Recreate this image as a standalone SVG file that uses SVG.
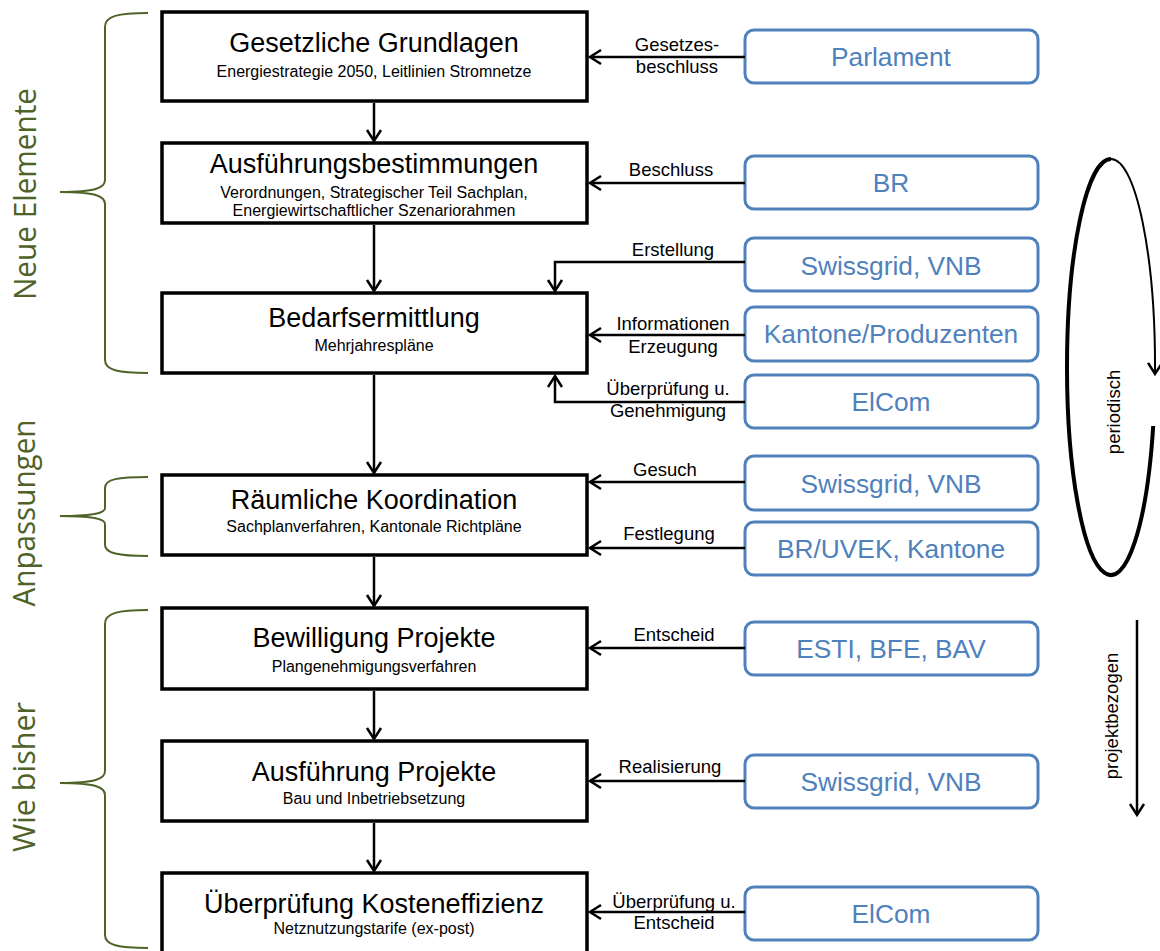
<svg xmlns="http://www.w3.org/2000/svg" width="1160" height="951" viewBox="0 0 1160 951">
<defs>
<style>
.box{fill:#fff;stroke:#000;stroke-width:3.5}
.bbox{fill:#fff;stroke:#4F81BD;stroke-width:3}
.t{font-family:"Liberation Sans",Arial,sans-serif;font-size:27px;fill:#000;text-anchor:middle}
.s{font-family:"Liberation Sans",Arial,sans-serif;font-size:16px;fill:#000;text-anchor:middle}
.l{font-family:"Liberation Sans",Arial,sans-serif;font-size:18.5px;fill:#000;text-anchor:middle}
.bt{font-family:"Liberation Sans",Arial,sans-serif;font-size:26.3px;fill:#4F81BD;text-anchor:middle}
.g{font-family:"Open Sans","Noto Sans",sans-serif;font-size:31px;fill:#4F6228;text-anchor:middle}
.br{fill:none;stroke:#4F6228;stroke-width:2}
.c{fill:none;stroke:#000;stroke-width:2.5}
</style>
<marker id="ah" markerUnits="userSpaceOnUse" markerWidth="16" markerHeight="18" refX="12" refY="8" orient="auto" overflow="visible">
<path d="M1,1 L12,8 L1,15" fill="none" stroke="#000" stroke-width="2.5"/>
</marker>
</defs>

<g id="braces">
<path class="br" d="M148,13 C118,13 105,16 105,27 L105,180 C105,188 95,192 60,192 C95,192 105,196 105,204 L105,360 C105,370 118,373 148,373"/>
<path class="br" d="M148,477 C118,477 105,479 105,488 L105,508 C105,513 95,516 60,516 C95,516 105,519 105,524 L105,545 C105,553 118,556 148,556"/>
<path class="br" d="M148,610 C118,610 105,613 105,624 L105,771 C105,779 95,783 60,783 C95,783 105,787 105,795 L105,935 C105,945 118,948 148,948"/>
<text class="g" transform="translate(36,194) rotate(-90)" textLength="212" lengthAdjust="spacingAndGlyphs">Neue Elemente</text>
<text class="g" transform="translate(35,513) rotate(-90)" textLength="187" lengthAdjust="spacingAndGlyphs">Anpassungen</text>
<text class="g" transform="translate(35,777) rotate(-90)" textLength="150" lengthAdjust="spacingAndGlyphs">Wie bisher</text>
</g>

<g id="n1"><rect class="box" x="162" y="12" width="425" height="89"/>
<text class="t" x="374" y="52">Gesetzliche Grundlagen</text>
<text class="s" x="374" y="77">Energiestrategie 2050, Leitlinien Stromnetze</text></g>

<g id="n2"><rect class="box" x="162" y="143" width="425" height="80"/>
<text class="t" x="374" y="173">Ausführungsbestimmungen</text>
<text class="s" x="374" y="198">Verordnungen, Strategischer Teil Sachplan,</text>
<text class="s" x="374" y="216">Energiewirtschaftlicher Szenariorahmen</text></g>

<g id="n3"><rect class="box" x="162" y="293" width="425" height="80"/>
<text class="t" x="374" y="327">Bedarfsermittlung</text>
<text class="s" x="374" y="351">Mehrjahrespläne</text></g>

<g id="n4"><rect class="box" x="162" y="475" width="425" height="80"/>
<text class="t" x="374" y="509">Räumliche Koordination</text>
<text class="s" x="374" y="532">Sachplanverfahren, Kantonale Richtpläne</text></g>

<g id="n5"><rect class="box" x="162" y="608" width="425" height="81"/>
<text class="t" x="374" y="647">Bewilligung Projekte</text>
<text class="s" x="374" y="672">Plangenehmigungsverfahren</text></g>

<g id="n6"><rect class="box" x="162" y="741" width="425" height="80"/>
<text class="t" x="374" y="781">Ausführung Projekte</text>
<text class="s" x="374" y="804">Bau und Inbetriebsetzung</text></g>

<g id="n7"><rect class="box" x="162" y="873" width="425" height="85"/>
<text class="t" x="374" y="913">Überprüfung Kosteneffizienz</text>
<text class="s" x="374" y="934">Netznutzungstarife (ex-post)</text></g>

<g id="b1"><rect class="bbox" x="745" y="30" width="293" height="53" rx="9"/><text class="bt" x="891" y="66">Parlament</text></g>
<g id="b2"><rect class="bbox" x="745" y="156" width="293" height="53" rx="9"/><text class="bt" x="891" y="192">BR</text></g>
<g id="b3"><rect class="bbox" x="745" y="238" width="293" height="53" rx="9"/><text class="bt" x="891" y="275">Swissgrid, VNB</text></g>
<g id="b4"><rect class="bbox" x="745" y="307" width="293" height="54" rx="9"/><text class="bt" x="891" y="343">Kantone/Produzenten</text></g>
<g id="b5"><rect class="bbox" x="745" y="375" width="293" height="53" rx="9"/><text class="bt" x="891" y="411">ElCom</text></g>
<g id="b6"><rect class="bbox" x="745" y="456" width="293" height="54" rx="9"/><text class="bt" x="891" y="493">Swissgrid, VNB</text></g>
<g id="b7"><rect class="bbox" x="745" y="522" width="293" height="53" rx="9"/><text class="bt" x="891" y="558">BR/UVEK, Kantone</text></g>
<g id="b8"><rect class="bbox" x="745" y="622" width="293" height="53" rx="9"/><text class="bt" x="891" y="658">ESTI, BFE, BAV</text></g>
<g id="b9"><rect class="bbox" x="745" y="755" width="293" height="53" rx="9"/><text class="bt" x="891" y="791">Swissgrid, VNB</text></g>
<g id="b10"><rect class="bbox" x="745" y="887" width="293" height="53" rx="9"/><text class="bt" x="891" y="923">ElCom</text></g>

<g id="connectors">
<line class="c" x1="374" y1="103" x2="374" y2="141" marker-end="url(#ah)"/>
<line class="c" x1="374" y1="225" x2="374" y2="291" marker-end="url(#ah)"/>
<line class="c" x1="374" y1="375" x2="374" y2="473" marker-end="url(#ah)"/>
<line class="c" x1="374" y1="557" x2="374" y2="606" marker-end="url(#ah)"/>
<line class="c" x1="374" y1="691" x2="374" y2="739" marker-end="url(#ah)"/>
<line class="c" x1="374" y1="823" x2="374" y2="871" marker-end="url(#ah)"/>

<line class="c" x1="745" y1="57" x2="590" y2="57" marker-end="url(#ah)"/>
<line class="c" x1="745" y1="183" x2="590" y2="183" marker-end="url(#ah)"/>
<polyline class="c" points="745,262 555,262 555,291" marker-end="url(#ah)"/>
<line class="c" x1="745" y1="335" x2="590" y2="335" marker-end="url(#ah)"/>
<polyline class="c" points="745,402 555,402 555,376" marker-end="url(#ah)"/>
<line class="c" x1="745" y1="482" x2="590" y2="482" marker-end="url(#ah)"/>
<line class="c" x1="745" y1="548" x2="590" y2="548" marker-end="url(#ah)"/>
<line class="c" x1="745" y1="648" x2="590" y2="648" marker-end="url(#ah)"/>
<line class="c" x1="745" y1="781" x2="590" y2="781" marker-end="url(#ah)"/>
<line class="c" x1="745" y1="912" x2="590" y2="912" marker-end="url(#ah)"/>

<text class="l" x="677" y="51">Gesetzes-</text>
<text class="l" x="677" y="73">beschluss</text>
<text class="l" x="671" y="176">Beschluss</text>
<text class="l" x="673" y="256">Erstellung</text>
<text class="l" x="673" y="330">Informationen</text>
<text class="l" x="673" y="353">Erzeugung</text>
<text class="l" x="668" y="395">Überprüfung u.</text>
<text class="l" x="668" y="417">Genehmigung</text>
<text class="l" x="665" y="476">Gesuch</text>
<text class="l" x="669" y="540">Festlegung</text>
<text class="l" x="674" y="641">Entscheid</text>
<text class="l" x="670" y="773">Realisierung</text>
<text class="l" x="674" y="908">Überprüfung u.</text>
<text class="l" x="674" y="929">Entscheid</text>

<path d="M1153.2,426 A44,208 0 0 1 1067,367 A44,208 0 0 1 1111,159" fill="none" stroke="#000" stroke-width="4"/>
<path d="M1111,159 A44,208 0 0 1 1155,374" fill="none" stroke="#000" stroke-width="2" marker-end="url(#ah)"/>
<text class="l" transform="translate(1120,412) rotate(-90)">periodisch</text>

<line class="c" x1="1137" y1="620" x2="1137" y2="815" marker-end="url(#ah)"/>
<text class="l" transform="translate(1118,716) rotate(-90)">projektbezogen</text>
</g>
</svg>
